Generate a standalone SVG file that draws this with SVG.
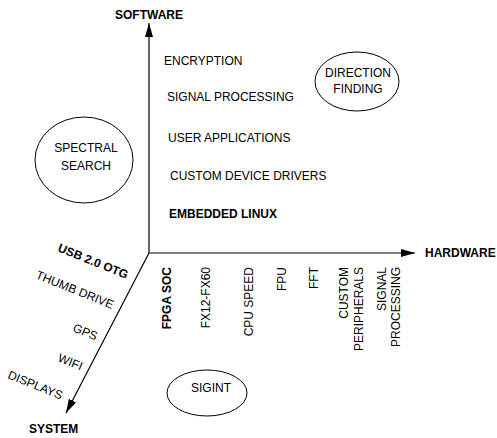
<svg xmlns="http://www.w3.org/2000/svg" width="497" height="438" viewBox="0 0 497 438">
  <style>
    text { font-family: "Liberation Sans", Arial, sans-serif; font-size: 12px; fill: #000; }
    .b { font-weight: bold; }
    .axis { stroke: #000; stroke-width: 1.2; fill: none; }
    .node ellipse { fill: #fff; stroke: #000; stroke-width: 1; }
    .c { text-anchor: middle; }
    .e { text-anchor: end; }
  </style>
  <defs>
    <marker id="arrow" viewBox="0 0 14 8" refX="14" refY="4" markerWidth="14" markerHeight="8" markerUnits="userSpaceOnUse" orient="auto">
      <path d="M0,0 L14,4 L0,8 Z" fill="#000"/>
    </marker>
  </defs>
  <rect width="497" height="438" fill="#fff"/>

  <!-- axes -->
  <g id="connectors">
    <line class="axis" x1="149" y1="253" x2="149" y2="23" marker-end="url(#arrow)"/>
    <line class="axis" x1="149" y1="253" x2="415" y2="253" marker-end="url(#arrow)"/>
    <line class="axis" x1="149" y1="253" x2="66" y2="413" marker-end="url(#arrow)"/>
  </g>

  <!-- axis titles -->
  <g id="axis-software"><text class="b" x="115" y="19">SOFTWARE</text></g>
  <g id="axis-hardware"><text class="b" x="425" y="257">HARDWARE</text></g>
  <g id="axis-system"><text class="b" x="29" y="433">SYSTEM</text></g>

  <!-- software items -->
  <g id="software-items">
    <text x="164" y="65">ENCRYPTION</text>
    <text x="167" y="101">SIGNAL PROCESSING</text>
    <text x="168" y="142">USER APPLICATIONS</text>
    <text x="170" y="180">CUSTOM DEVICE DRIVERS</text>
    <text class="b" x="169" y="218">EMBEDDED LINUX</text>
  </g>

  <!-- hardware items -->
  <g id="hardware-items">
    <text class="b e" transform="translate(171,267) rotate(-90)">FPGA SOC</text>
    <text class="e" transform="translate(210,267) rotate(-90)">FX12-FX60</text>
    <text class="e" transform="translate(253,267) rotate(-90)">CPU SPEED</text>
    <text class="e" transform="translate(286,267) rotate(-90)">FPU</text>
    <text class="e" transform="translate(318,267) rotate(-90)">FFT</text>
    <text class="e" transform="translate(348,267) rotate(-90)">CUSTOM</text>
    <text class="e" transform="translate(363,267) rotate(-90)">PERIPHERALS</text>
    <text class="e" transform="translate(386,267) rotate(-90)">SIGNAL</text>
    <text class="e" transform="translate(400,267) rotate(-90)">PROCESSING</text>
  </g>

  <!-- system items -->
  <g id="system-items">
    <text class="b" transform="translate(57,251) rotate(22)">USB 2.0 OTG</text>
    <text transform="translate(35,278) rotate(22)">THUMB DRIVE</text>
    <text transform="translate(72,331) rotate(22)">GPS</text>
    <text transform="translate(57,361) rotate(22)">WIFI</text>
    <text transform="translate(7,378) rotate(22)">DISPLAYS</text>
  </g>

  <!-- application areas -->
  <g id="spectral-search" class="node">
    <ellipse cx="84" cy="160" rx="49" ry="43"/>
    <text class="c" x="86" y="152">SPECTRAL</text>
    <text class="c" x="86" y="170">SEARCH</text>
  </g>
  <g id="direction-finding" class="node">
    <ellipse cx="357" cy="81.5" rx="42" ry="29.5"/>
    <text class="c" x="358" y="77">DIRECTION</text>
    <text class="c" x="358" y="93">FINDING</text>
  </g>
  <g id="sigint" class="node">
    <ellipse cx="207" cy="393" rx="40" ry="23"/>
    <text class="c" x="211" y="392">SIGINT</text>
  </g>
</svg>
